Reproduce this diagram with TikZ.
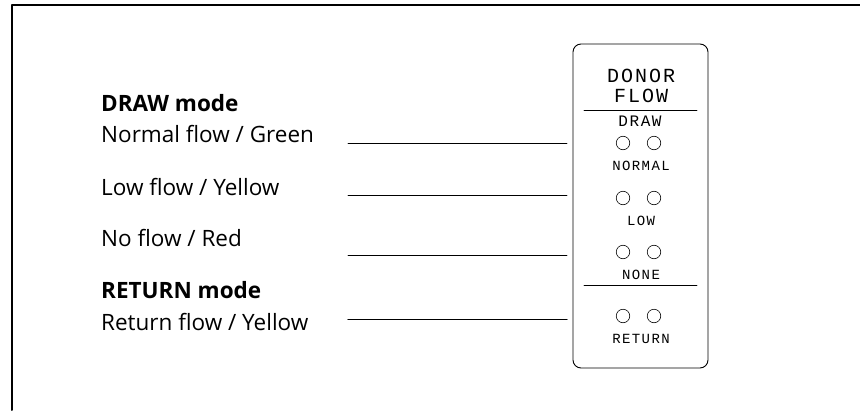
\documentclass[tikz,border=0pt]{standalone}
\usepackage{fontspec}
\setmainfont{Open Sans}
\newfontfamily\panelfont{Liberation Mono}[LetterSpace=10]
\begin{document}
\begin{tikzpicture}[x=1pt, y=-1pt, line join=round, line cap=round,
	lbl/.style={anchor=base west, inner sep=0pt, font=\fontsize{22.5}{24}\selectfont},
	ptxt/.style={inner sep=0pt, font=\panelfont\fontsize{14}{16}\selectfont},
	lamp/.style={draw, circle, minimum size=13.5pt, inner sep=0pt, line width=0.6pt}]
	\useasboundingbox (0,0) rectangle (860,410);
	\draw[line width=2pt] (12,410) -- (12,5) -- (860,5);
	% left labels
	\node[lbl, font=\fontsize{22.5}{24}\selectfont\bfseries] (drawmode) at (101,111.7) {DRAW mode};
	\node[lbl] (normal) at (101,142) {Normal flow / Green};
	\node[lbl] (low) at (101,195) {Low flow / Yellow};
	\node[lbl] (none) at (101,246.7) {No flow / Red};
	\node[lbl, font=\fontsize{22.5}{24}\selectfont\bfseries] (returnmode) at (101,298.3) {RETURN mode};
	\node[lbl] (return) at (101,330) {Return flow / Yellow};
	% panel
	\draw[line width=0.9pt, rounded corners=8pt] (573,44) rectangle (708,368);
	\path (641,76) node[ptxt, font=\panelfont\fontsize{20}{22}\selectfont] (donor) {DONOR}
	(641,96) node[ptxt, font=\panelfont\fontsize{20}{22}\selectfont] (flow) {FLOW}
	(640,121) node[ptxt, font=\panelfont\fontsize{16}{18}\selectfont] (draw) {DRAW}
	(584,110) coordinate (h1) (697,110) coordinate (h2)
	(584,285) coordinate (h3) (697,285) coordinate (h4);
	\draw[line width=0.7pt] (h1) -- (h2) (h3) -- (h4);
	\foreach \n/\y/\t in {normal/143/NORMAL, low/198/LOW, none/252/NONE, return/316/RETURN}
	{
		\node[lamp] (\n-l) at (623,\y) {};
		\node[lamp] (\n-r) at (654,\y) {};
		\node[ptxt] (\n-t) at (641,\y+23) {\t};
	}
	% leader lines
	\foreach \i/\y/\w in {1/143/0.8, 2/195/0.8, 3/255/0.8, 4/319.5/1.4}
	{
		\path (348,\y) coordinate (a\i) (567,\y) coordinate (b\i);
		\draw[line width=\w pt] (a\i) -- (b\i);
	}
\end{tikzpicture}
\end{document}
